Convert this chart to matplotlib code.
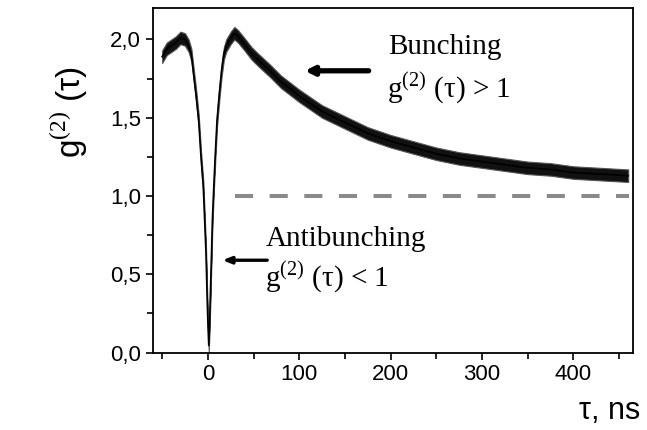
import matplotlib
matplotlib.use("Agg")
import matplotlib.pyplot as plt
from matplotlib.ticker import MultipleLocator, FuncFormatter

# values
tau = [-50, -45, -40, -35, -30, -25, -21, -18, -16, -13, -10, -7.5, -5, -3.5, -2, -1, 0, 1,
       2, 3, 4, 5, 6.5, 8, 10, 12.5, 15, 17.5, 20, 25, 29, 33, 40, 48, 55, 68, 80, 100,
       125, 150, 175, 200, 225, 250, 275, 300, 325, 350, 375, 400, 430, 460]
g2 = [1.89, 1.94, 1.96, 1.98, 2.01, 2.00, 1.96, 1.90, 1.80, 1.65, 1.48, 1.25, 1.06, 0.85, 0.63, 0.40, 0.20, 0.045,
      0.20, 0.42, 0.63, 0.85, 1.06, 1.25, 1.48, 1.65, 1.80, 1.91, 1.96, 2.01, 2.04, 2.02, 1.97, 1.91, 1.87, 1.80, 1.73, 1.64,
      1.54, 1.47, 1.40, 1.35, 1.31, 1.27, 1.24, 1.22, 1.20, 1.18, 1.17, 1.15, 1.14, 1.13]
noise = 0.04

ref_x = [30, 461]
ref_y = [1.0, 1.0]

plt.rcParams['mathtext.fontset'] = 'custom'
plt.rcParams['mathtext.rm'] = 'Liberation Serif'
plt.rcParams['font.family'] = 'Liberation Sans'

fig = plt.figure(figsize=(6.47, 4.30), dpi=100)
ax = fig.add_axes([0.2365, 0.180, 0.7415, 0.801])

# noisy trace: band plus centre line
lo = [v - noise for v in g2]
hi = [v + noise for v in g2]
ax.fill_between(tau, lo, hi, color='#111111', linewidth=0.8, edgecolor='#555555')
ax.plot(tau, g2, color='black', lw=1.2)

ax.plot(ref_x, ref_y, color='#8a8a8a', lw=2.9, linestyle=(0, (4.5, 4.1)))

ax.set_xlim(-60, 465)
ax.set_ylim(0, 2.2)
ax.xaxis.set_major_locator(MultipleLocator(100))
ax.xaxis.set_minor_locator(MultipleLocator(50))
ax.yaxis.set_major_locator(MultipleLocator(0.5))
ax.yaxis.set_minor_locator(MultipleLocator(0.25))
ax.yaxis.set_major_formatter(FuncFormatter(lambda v, p: f"{v:.1f}".replace('.', ',')))
ax.tick_params(which='both', direction='out', width=1.2, labelsize=16)
ax.tick_params(which='major', length=5)
ax.tick_params(which='minor', length=4)
for s in ax.spines.values():
    s.set_linewidth(1.3)

# annotations
serif = 'Liberation Serif'
ax.text(197, 1.91, "Bunching", family=serif, fontsize=21, va='baseline')
ax.text(196, 1.63, r"g$^{\rm (2)}$ (τ) > 1", family=serif, fontsize=21, va='baseline')
ax.text(63, 0.68, "Antibunching", family=serif, fontsize=21, va='baseline')
ax.text(63, 0.42, r"g$^{\rm (2)}$ (τ) < 1", family=serif, fontsize=21, va='baseline')

ax.annotate("", xy=(103, 1.80), xytext=(179, 1.80),
            arrowprops=dict(arrowstyle='-|>,head_length=0.5,head_width=0.25', lw=3.8, color='black'))
ax.annotate("", xy=(13, 0.59), xytext=(68, 0.59),
            arrowprops=dict(arrowstyle='-|>,head_length=0.5,head_width=0.2', lw=2.4, color='black'))

fig.text(0.108, 0.74, r"g$^{(2)}$ (τ)", rotation=90, fontsize=24, ha='center', va='center',
         family='Liberation Sans')
fig.text(0.99, 0.025, "τ, ns", fontsize=22, ha='right', va='baseline')

fig.savefig("out.png", dpi=100)
